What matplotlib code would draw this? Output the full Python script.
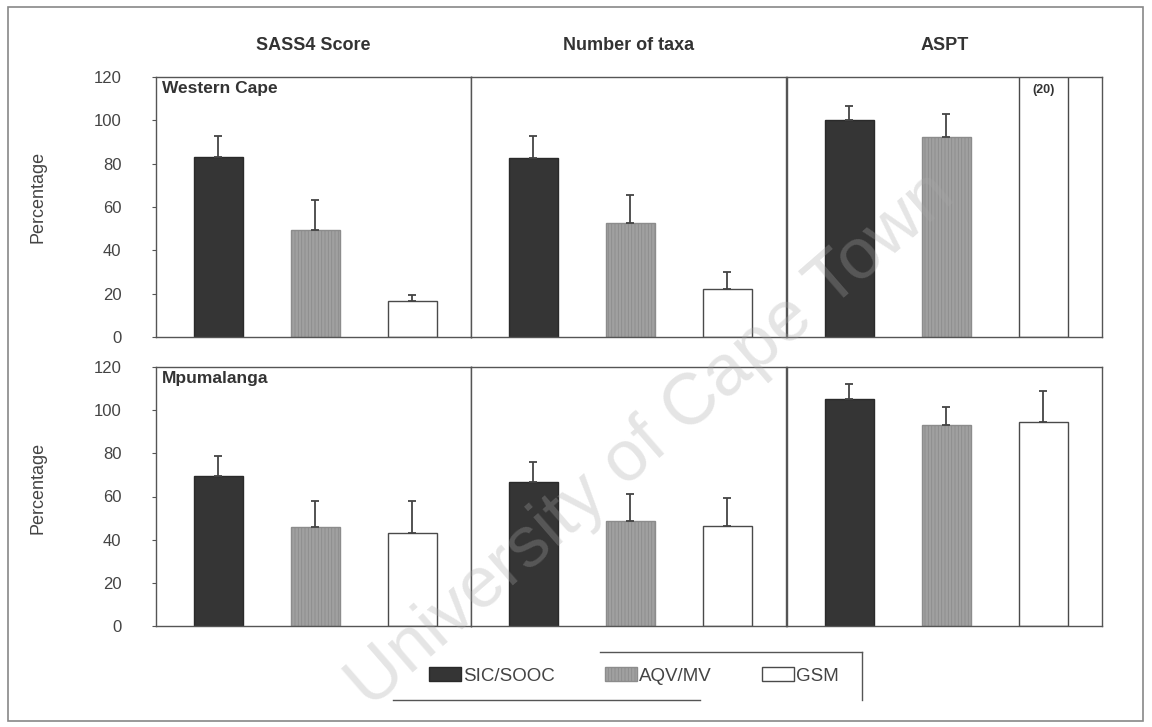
import matplotlib
matplotlib.use("Agg")
import matplotlib.pyplot as plt
from matplotlib.patches import Patch, Rectangle
from matplotlib.lines import Line2D
import numpy as np

plt.rcParams['font.family'] = ['Liberation Sans', 'DejaVu Sans']
plt.rcParams['hatch.linewidth'] = 0.6

# Groups and panels
groups = ["SIC/SOOC", "AQV/MV", "GSM"]
metrics = ["SASS4 Score", "Number of taxa", "ASPT"]
regions = ["Western Cape", "Mpumalanga"]

# Mean percentage per region (rows) and metric (columns)
wc_sass = [83, 49.5, 16.5]
wc_taxa = [82.6, 52.5, 22]
wc_aspt = [100.2, 92.2, 130]      # GSM ASPT is off-scale
wc_sass_err = [10, 13.5, 2.7]
wc_taxa_err = [10.2, 13, 8]
wc_aspt_err = [6.3, 10.6, 0]

mp_sass = [69.6, 46.1, 43.1]
mp_taxa = [66.7, 48.6, 46.2]
mp_aspt = [105.1, 93, 94.5]
mp_sass_err = [9, 12, 15]
mp_taxa_err = [9.1, 12.4, 13]
mp_aspt_err = [7.1, 8.4, 14.5]

offscale_note = "(20)"

values = [[wc_sass, wc_taxa, wc_aspt], [mp_sass, mp_taxa, mp_aspt]]
errors = [[wc_sass_err, wc_taxa_err, wc_aspt_err],
          [mp_sass_err, mp_taxa_err, mp_aspt_err]]

face = ["#353535", "#a0a0a0", "#ffffff"]
edge = ["#2a2a2a", "#8c8c8c", "#4a4a4a"]
hatch = [None, "|||||", None]
axis_col = "#555555"
text_col = "#333333"

fig = plt.figure(figsize=(11.52, 7.27), dpi=100)
W, H = 1152, 727

col_left = [156, 471, 787]
col_w = 315
row_top = [77, 367]
row_h = [260, 259]
ylabel_y = [197, 488]

x = np.arange(3)
for r in range(2):
    for c in range(3):
        ax = fig.add_axes([col_left[c] / W, 1 - (row_top[r] + row_h[r]) / H,
                           col_w / W, row_h[r] / H])
        ax.set_xlim(-0.644, 2.608)
        ax.set_ylim(0, 120)
        vals = values[r][c]
        errs = errors[r][c]
        for i in range(3):
            ax.bar(x[i], vals[i], width=0.506, color=face[i], edgecolor=edge[i],
                   linewidth=1.0, hatch=hatch[i], zorder=2)
            if errs[i] > 0 and vals[i] <= 120:
                ax.errorbar(x[i], vals[i], yerr=[[0], [errs[i]]], fmt="none",
                            ecolor="#444444", elinewidth=1.3, capsize=3,
                            capthick=1.3, zorder=3)
            if vals[i] > 120:
                ax.text(x[i], 117, offscale_note, ha="center", va="top",
                        fontsize=9, fontweight="bold", color=text_col)
        for s in ax.spines.values():
            s.set_color(axis_col)
            s.set_linewidth(1.0)
        ax.set_xticks([])
        if c == 0:
            ax.set_yticks(np.arange(0, 121, 20))
            ax.tick_params(axis="y", length=3, width=0.8, color=axis_col,
                           labelsize=12, labelcolor="#444444", pad=22)
            ax.set_ylabel("Percentage", fontsize=13, color="#444444")
            ax.yaxis.set_label_coords((46 - col_left[c]) / col_w,
                                      1 - (ylabel_y[r] - row_top[r]) / row_h[r])
            ax.text(0.02, 0.985, regions[r], transform=ax.transAxes, ha="left",
                    va="top", fontsize=12.5, fontweight="bold", color=text_col)
        else:
            ax.set_yticks([])
        if r == 0:
            fig.text((col_left[c] + col_w / 2) / W, 1 - 45 / H, metrics[c],
                     ha="center", va="center", fontsize=13, fontweight="bold",
                     color=text_col)

# Legend
handles = [Patch(facecolor=face[i], edgecolor=edge[i], hatch=hatch[i],
                 linewidth=1.0) for i in range(3)]
leg = fig.legend(handles, groups, loc="center", ncol=3,
                 bbox_to_anchor=(634 / W, 1 - 676 / H), fontsize=13.5,
                 frameon=False, handlelength=1.7, handleheight=0.7,
                 handletextpad=0.1, columnspacing=2.7)
for t in leg.get_texts():
    t.set_color("#444444")

# Legend box strokes
for xs, ys in [((600, 862), (652, 652)), ((862, 862), (652, 700)),
               ((393, 700), (700, 700))]:
    fig.add_artist(Line2D([v / W for v in xs], [1 - v / H for v in ys],
                          color=axis_col, linewidth=1.0))

# Outer frame
fig.patches.append(Rectangle((8 / W, 1 - 721 / H), 1135 / W, 714 / H,
                             transform=fig.transFigure, fill=False,
                             edgecolor="#888888", linewidth=1.2))

# Watermark
fig.text(652 / W, 1 - 440 / H, "University of Cape Town", rotation=41,
         ha="center", va="center", fontsize=52, color="#a8a8a8", alpha=0.3,
         zorder=10)

fig.savefig("out.png", dpi=100, facecolor="white")
